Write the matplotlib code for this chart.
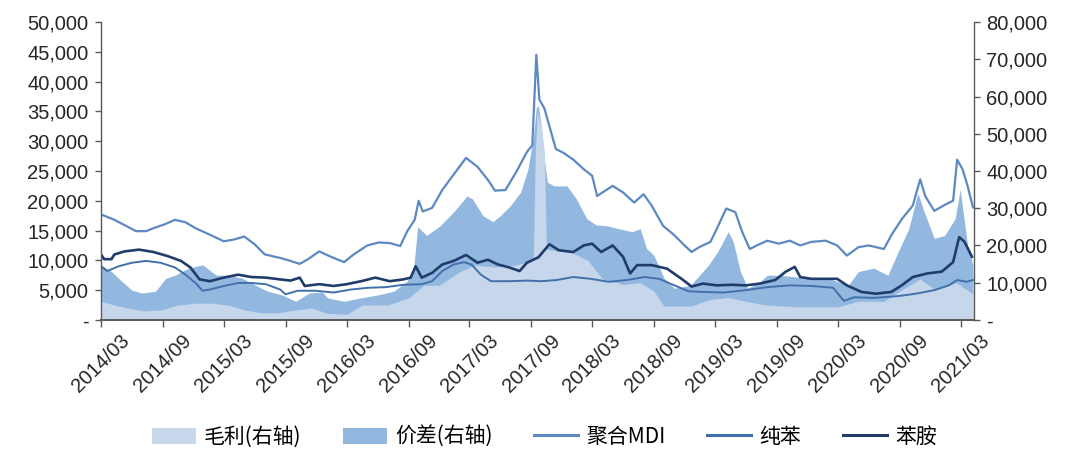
import matplotlib
matplotlib.use("Agg")
import matplotlib.pyplot as plt
import matplotlib.dates as mdates
from matplotlib.ticker import FuncFormatter, MultipleLocator
from matplotlib.patches import Patch
from matplotlib.lines import Line2D
import pandas as pd

plt.rcParams['font.family'] = ['Liberation Sans', 'Noto Sans CJK SC', 'DejaVu Sans']

# 聚合MDI price (left axis)
mdi_dates = [
    '2014-03-01', '2014-04-10', '2014-06-13', '2014-07-13', '2014-08-04', '2014-09-04',
    '2014-10-07', '2014-11-07', '2014-12-07', '2015-01-19', '2015-03-01', '2015-04-01',
    '2015-05-01', '2015-06-01', '2015-07-01', '2015-08-16', '2015-09-16', '2015-10-13',
    '2015-11-07', '2015-12-10', '2016-01-10', '2016-02-22', '2016-03-22', '2016-05-01',
    '2016-06-04', '2016-07-07', '2016-08-07', '2016-08-28', '2016-09-19', '2016-10-01',
    '2016-10-13', '2016-11-10', '2016-12-10', '2017-01-13', '2017-02-19', '2017-03-25',
    '2017-04-25', '2017-05-16', '2017-06-16', '2017-07-19', '2017-08-19', '2017-09-04',
    '2017-09-16', '2017-09-25', '2017-10-10', '2017-11-13', '2017-12-07', '2018-01-04',
    '2018-02-04', '2018-03-01', '2018-03-16', '2018-04-01', '2018-05-01', '2018-06-01',
    '2018-07-04', '2018-08-01', '2018-08-25', '2018-09-28', '2018-11-01', '2018-12-01',
    '2018-12-22', '2019-01-13', '2019-02-16', '2019-03-07', '2019-04-04', '2019-05-01',
    '2019-05-22', '2019-06-13', '2019-07-04', '2019-08-04', '2019-09-07', '2019-10-10',
    '2019-11-10', '2019-12-13', '2020-01-25', '2020-02-28', '2020-03-28', '2020-05-01',
    '2020-06-01', '2020-07-16', '2020-08-07', '2020-09-07', '2020-10-10', '2020-11-01',
    '2020-11-16', '2020-12-13', '2021-01-16', '2021-02-07', '2021-02-19', '2021-03-07',
    '2021-03-22', '2021-04-07',
]
mdi_values = [
    17700, 16800, 14900, 14900, 15400, 16000,
    16800, 16400, 15400, 14300, 13200, 13500,
    14000, 12700, 11000, 10400, 9900, 9400,
    10200, 11500, 10700, 9700, 11000, 12500,
    13000, 12900, 12400, 14900, 16800, 20000,
    18200, 18800, 21800, 24400, 27200, 25700,
    23500, 21700, 21800, 24900, 28200, 29300,
    44500, 37000, 35500, 28700, 28000, 26900,
    25300, 24200, 20800, 21400, 22500, 21400,
    19700, 21100, 19200, 15800, 14200, 12500,
    11400, 12200, 13100, 15300, 18700, 18100,
    14700, 11900, 12500, 13300, 12800, 13300,
    12500, 13100, 13300, 12500, 10800, 12200,
    12500, 11900, 14200, 16900, 19200, 23600,
    20800, 18300, 19400, 20000, 26900, 25300,
    22500, 18900,
]

# 纯苯 price (left axis)
benzene_dates = [
    '2014-03-01', '2014-03-19', '2014-04-22', '2014-06-01', '2014-07-13', '2014-08-25',
    '2014-10-07', '2014-11-07', '2014-12-07', '2014-12-28', '2015-01-19', '2015-03-01',
    '2015-04-13', '2015-05-22', '2015-07-04', '2015-08-16', '2015-09-01', '2015-10-07',
    '2015-11-28', '2016-01-22', '2016-03-13', '2016-05-04', '2016-06-25', '2016-08-16',
    '2016-10-10', '2016-11-10', '2016-12-10', '2017-01-13', '2017-02-13', '2017-03-07',
    '2017-04-04', '2017-05-04', '2017-06-28', '2017-08-19', '2017-10-01', '2017-11-16',
    '2018-01-04', '2018-02-25', '2018-04-19', '2018-06-13', '2018-08-04', '2018-09-16',
    '2018-11-01', '2018-12-13', '2019-01-25', '2019-03-28', '2019-06-01', '2019-08-04',
    '2019-10-10', '2019-12-13', '2020-02-16', '2020-03-19', '2020-04-19', '2020-06-16',
    '2020-08-28', '2020-10-19', '2020-12-13', '2021-01-25', '2021-02-19', '2021-03-19',
    '2021-04-07',
]
benzene_values = [
    9000, 8200, 9000, 9600, 9900, 9600,
    8800, 7600, 6200, 4900, 5100, 5700,
    6200, 6200, 6000, 5100, 4300, 4900,
    4900, 4600, 5100, 5400, 5500, 5900,
    6000, 6500, 8200, 9300, 9700, 9300,
    7600, 6500, 6500, 6600, 6500, 6700,
    7200, 6900, 6400, 6700, 7200, 6900,
    5800, 4800, 4700, 4600, 5000, 5500,
    5800, 5700, 5400, 3200, 3800, 3700,
    4000, 4400, 5000, 5800, 6700, 6400,
    6700,
]

# 苯胺 price (left axis)
aniline_dates = [
    '2014-03-01', '2014-03-10', '2014-04-01', '2014-04-10', '2014-05-10', '2014-06-22',
    '2014-08-04', '2014-09-16', '2014-10-25', '2014-11-22', '2014-12-19', '2015-01-19',
    '2015-03-01', '2015-04-13', '2015-05-22', '2015-07-04', '2015-08-16', '2015-09-16',
    '2015-10-13', '2015-10-28', '2015-12-10', '2016-01-22', '2016-03-01', '2016-04-13',
    '2016-05-25', '2016-07-07', '2016-08-16', '2016-09-07', '2016-09-22', '2016-10-10',
    '2016-11-10', '2016-12-10', '2017-01-13', '2017-02-19', '2017-03-25', '2017-04-25',
    '2017-05-25', '2017-06-28', '2017-07-28', '2017-08-19', '2017-09-22', '2017-10-25',
    '2017-11-22', '2018-01-04', '2018-02-04', '2018-03-01', '2018-03-28', '2018-05-01',
    '2018-06-01', '2018-06-22', '2018-07-13', '2018-08-25', '2018-10-10', '2018-11-22',
    '2018-12-22', '2019-01-25', '2019-03-07', '2019-04-19', '2019-06-01', '2019-07-13',
    '2019-08-28', '2019-09-28', '2019-10-25', '2019-11-10', '2019-12-13', '2020-01-25',
    '2020-02-28', '2020-03-28', '2020-05-10', '2020-06-22', '2020-08-07', '2020-09-07',
    '2020-10-10', '2020-11-22', '2021-01-04', '2021-02-07', '2021-02-25', '2021-03-13',
    '2021-04-04',
]
aniline_values = [
    11000, 10200, 10200, 11000, 11500, 11800,
    11400, 10700, 9900, 8800, 6800, 6500,
    7100, 7600, 7200, 7100, 6800, 6600,
    7100, 5700, 6000, 5700, 6000, 6500,
    7100, 6500, 6800, 7100, 9000, 7100,
    7900, 9300, 9900, 10900, 9600, 10100,
    9300, 8800, 8200, 9600, 10500, 12700,
    11700, 11400, 12500, 12800, 11400, 12500,
    10600, 7800, 9200, 9200, 8600, 6900,
    5600, 6100, 5800, 5900, 5800, 6100,
    6700, 8100, 8900, 7200, 6900, 6900,
    6900, 5800, 4700, 4400, 4700, 5800,
    7200, 7800, 8100, 9700, 13900, 13100,
    10600,
]

# 价差 (right axis)
spread_dates = [
    '2014-03-01', '2014-04-01', '2014-05-01', '2014-06-01', '2014-07-01', '2014-08-10',
    '2014-09-10', '2014-10-07', '2014-11-16', '2014-12-28', '2015-02-07', '2015-03-13',
    '2015-04-25', '2015-06-04', '2015-07-10', '2015-08-22', '2015-10-01', '2015-11-10',
    '2015-12-19', '2016-01-04', '2016-02-22', '2016-04-10', '2016-06-01', '2016-07-19',
    '2016-08-28', '2016-09-16', '2016-09-28', '2016-10-25', '2016-12-04', '2017-01-13',
    '2017-02-22', '2017-03-10', '2017-04-10', '2017-05-10', '2017-06-01', '2017-07-01',
    '2017-08-01', '2017-08-22', '2017-09-07', '2017-09-16', '2017-09-22', '2017-10-01',
    '2017-10-10', '2017-10-19', '2017-11-07', '2017-12-16', '2018-01-13', '2018-02-13',
    '2018-03-13', '2018-04-13', '2018-05-19', '2018-06-28', '2018-07-22', '2018-08-10',
    '2018-09-01', '2018-10-01', '2018-11-01', '2018-12-19', '2019-02-10', '2019-03-10',
    '2019-04-10', '2019-04-25', '2019-05-16', '2019-06-07', '2019-07-16', '2019-08-04',
    '2019-09-13', '2019-12-01', '2020-02-01', '2020-04-01', '2020-05-01', '2020-06-16',
    '2020-07-28', '2020-08-28', '2020-09-28', '2020-10-25', '2020-11-13', '2020-12-13',
    '2021-01-13', '2021-02-13', '2021-02-28', '2021-03-22', '2021-04-07',
]
spread_values = [
    14800, 13000, 10400, 8000, 7200, 7700,
    11200, 12000, 13900, 14800, 12000, 12000,
    11200, 9300, 7700, 6700, 5000, 7200,
    7500, 5900, 5000, 5900, 6700, 7700,
    10400, 14000, 25000, 22700, 25300, 29000,
    33300, 32500, 28000, 26400, 28000, 30700,
    34400, 40500, 49000, 57000, 57500, 52000,
    43000, 37000, 36000, 36000, 32500, 27200,
    25500, 25300, 24500, 23700, 24500, 19200,
    17300, 11200, 8500, 9300, 14700, 18400,
    23700, 21000, 13000, 8500, 10400, 12000,
    12000, 11200, 11200, 9300, 13000, 13900,
    12000, 18400, 24500, 34000, 29000, 21900,
    22700, 27200, 35000, 20000, 14700,
]

# 毛利 (right axis)
margin_dates = [
    '2014-03-01', '2014-04-10', '2014-05-19', '2014-07-07', '2014-08-28', '2014-10-16',
    '2014-12-07', '2015-01-25', '2015-03-13', '2015-05-01', '2015-06-22', '2015-08-10',
    '2015-10-01', '2015-11-19', '2016-01-01', '2016-03-01', '2016-04-16', '2016-07-01',
    '2016-09-01', '2016-10-16', '2016-12-01', '2017-02-01', '2017-03-16', '2017-05-16',
    '2017-07-16', '2017-09-07', '2017-09-13', '2017-09-19', '2017-10-01', '2017-10-10',
    '2017-10-16', '2017-11-16', '2018-01-01', '2018-02-16', '2018-04-01', '2018-06-01',
    '2018-07-22', '2018-09-01', '2018-10-01', '2018-12-19', '2019-02-16', '2019-04-10',
    '2019-06-01', '2019-08-01', '2019-11-01', '2020-03-01', '2020-05-01', '2020-07-16',
    '2020-09-01', '2020-11-01', '2020-12-16', '2021-02-16', '2021-04-07',
]
margin_values = [
    5000, 4000, 3200, 2400, 2700, 4000,
    4500, 4500, 4000, 2700, 1900, 1900,
    2700, 3200, 1800, 1500, 4000, 4000,
    5900, 9300, 9300, 13000, 14700, 14200,
    14700, 16000, 45000, 56000, 52000, 45000,
    19000, 18500, 18000, 16000, 11000, 9500,
    10000, 7700, 3700, 3700, 5500, 6000,
    5000, 4000, 3500, 3500, 5000, 5000,
    7700, 11000, 8000, 10000, 7000,
]

legend_labels = ['毛利(右轴)', '价差(右轴)', '聚合MDI', '纯苯', '苯胺']

c_margin = '#c6d7ec'
c_spread = '#93b8e0'
c_mdi = '#5c89c2'
c_benzene = '#4270ab'
c_aniline = '#1f3c6b'
c_axis = '#595959'
c_text = '#262626'

fig = plt.figure(figsize=(10.67, 4.59), dpi=100)
ax = fig.add_axes([0.0947, 0.303, 0.8181, 0.649])
ax2 = ax.twinx()
ax.set_zorder(ax2.get_zorder() + 1)
ax.patch.set_visible(False)

ax2.fill_between(pd.to_datetime(spread_dates), spread_values, 0,
                 color=c_spread, linewidth=0)
ax2.fill_between(pd.to_datetime(margin_dates), margin_values, 0,
                 color=c_margin, linewidth=0)

ax.plot(pd.to_datetime(mdi_dates), mdi_values, color=c_mdi, lw=1.6)
ax.plot(pd.to_datetime(benzene_dates), benzene_values, color=c_benzene, lw=1.4)
ax.plot(pd.to_datetime(aniline_dates), aniline_values, color=c_aniline, lw=1.9)

ax.set_xlim(pd.Timestamp('2014-03-01'), pd.Timestamp('2021-04-10'))
ax.set_ylim(0, 50000)
ax2.set_ylim(0, 80000)

ax.xaxis.set_major_locator(mdates.MonthLocator(bymonth=(3, 9)))
ax.xaxis.set_major_formatter(mdates.DateFormatter('%Y/%m'))
ax.yaxis.set_major_locator(MultipleLocator(5000))
ax2.yaxis.set_major_locator(MultipleLocator(10000))

fmt = FuncFormatter(lambda v, _: '-' if v == 0 else f'{v:,.0f}')
ax.yaxis.set_major_formatter(fmt)
ax2.yaxis.set_major_formatter(fmt)

for a in (ax, ax2):
    a.spines['top'].set_visible(False)
    for s in a.spines.values():
        s.set_color(c_axis)
        s.set_linewidth(1.0)
ax.spines['right'].set_visible(False)
ax2.spines['left'].set_visible(False)
ax2.spines['bottom'].set_visible(False)
ax.spines['bottom'].set_linewidth(1.4)

ax.tick_params(axis='y', direction='out', length=4, width=1, color=c_axis,
               labelsize=14.5, labelcolor=c_text, pad=5)
ax2.tick_params(axis='y', direction='out', length=4, width=1, color=c_axis,
                labelsize=14.5, labelcolor=c_text, pad=5)
ax.tick_params(axis='x', direction='out', length=5, width=1, color=c_axis,
               labelsize=14.5, labelcolor=c_text, pad=3)
for lbl in ax.get_xticklabels():
    lbl.set_rotation(45)
    lbl.set_ha('center')

handles = [
    Patch(facecolor=c_margin, edgecolor='none'),
    Patch(facecolor=c_spread, edgecolor='none'),
    Line2D([], [], color=c_mdi, lw=2.2),
    Line2D([], [], color=c_benzene, lw=2.2),
    Line2D([], [], color=c_aniline, lw=2.2),
]
fig.legend(handles, legend_labels, loc='center', bbox_to_anchor=(0.51, 0.048),
           ncol=5, frameon=False, handlelength=2.1, handleheight=0.8,
           handletextpad=0.4, columnspacing=2.0,
           prop={'family': ['Noto Sans CJK SC', 'DejaVu Sans'], 'size': 15})

fig.savefig('out.png', dpi=100)
